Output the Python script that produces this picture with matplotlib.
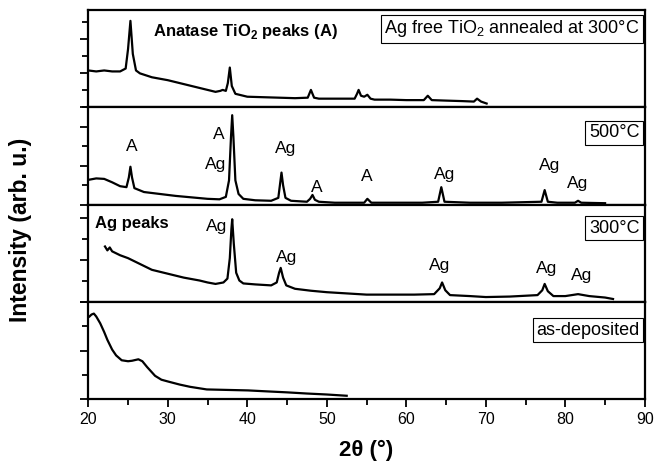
import matplotlib
matplotlib.use('Agg')
import matplotlib.pyplot as plt
from matplotlib.ticker import MultipleLocator, NullFormatter

plt.rcParams['font.family'] = ['Liberation Sans', 'DejaVu Sans']
plt.rcParams['mathtext.fontset'] = 'custom'
plt.rcParams['mathtext.rm'] = 'Liberation Sans'
plt.rcParams['mathtext.bf'] = 'Liberation Sans:bold'

# Ag free TiO2 annealed at 300C (top panel), intensities normalised to panel height
x_tio2 = [20.0, 21.0, 22.0, 23.0, 24.0, 24.7, 25.0, 25.3, 25.6, 26.0, 26.5, 28, 30, 32, 34, 36,
          36.6, 36.9, 37.3, 37.55, 37.8, 38.05, 38.5, 40, 42, 44, 46, 47.6, 48.0, 48.4, 49, 51,
          53.5, 53.8, 54.0, 54.3, 54.7, 55.1, 55.5, 56, 58, 60, 62.2, 62.7, 63.2, 65, 67,
          68.5, 68.9, 69.4, 70.1]
y_tio2 = [0.38, 0.37, 0.38, 0.37, 0.37, 0.40, 0.60, 0.89, 0.55, 0.38, 0.35, 0.31, 0.28, 0.24, 0.20, 0.16,
          0.17, 0.18, 0.17, 0.25, 0.41, 0.22, 0.14, 0.11, 0.105, 0.10, 0.095, 0.10, 0.18, 0.10, 0.09, 0.09,
          0.09, 0.14, 0.18, 0.12, 0.11, 0.13, 0.09, 0.08, 0.08, 0.075, 0.075, 0.12, 0.075, 0.07, 0.065,
          0.06, 0.09, 0.06, 0.04]

# 500C
x_500 = [20.0, 21, 22, 23, 24, 24.8, 25.1, 25.3, 25.5, 25.8, 27, 29, 31, 33, 35, 36.5, 37.3, 37.7,
         37.95, 38.1, 38.25, 38.5, 38.9, 39.5, 41, 43, 43.9, 44.1, 44.3, 44.5, 44.8, 45.5, 47.5, 47.9,
         48.2, 48.5, 49, 51, 54.7, 55.1, 55.6, 58, 62, 64.0, 64.4, 64.8, 68, 72, 77.0, 77.4, 77.8,
         79, 81.2, 81.6, 82, 85]
y_500 = [0.255, 0.27, 0.265, 0.23, 0.19, 0.18, 0.28, 0.39, 0.28, 0.17, 0.13, 0.11, 0.09, 0.075, 0.06, 0.055, 0.08, 0.25,
         0.70, 0.92, 0.70, 0.25, 0.11, 0.06, 0.045, 0.04, 0.07, 0.20, 0.33, 0.20, 0.07, 0.04, 0.03, 0.06,
         0.10, 0.05, 0.03, 0.02, 0.02, 0.06, 0.02, 0.02, 0.02, 0.03, 0.18, 0.03, 0.02, 0.02, 0.03, 0.15, 0.03,
         0.02, 0.02, 0.04, 0.02, 0.015]

# 300C
x_300 = [22.1, 22.4, 22.7, 23, 23.5, 24, 25, 26, 27, 28, 29, 30, 31, 32, 33, 34, 35, 36, 37.0, 37.5,
         37.8, 38.0, 38.1, 38.3, 38.6, 39.0, 39.5, 41, 43, 43.7, 44.0, 44.2, 44.5, 44.9, 46, 48, 50, 52,
         55, 58, 61, 63.5, 64.2, 64.5, 64.9, 65.5, 68, 70, 73, 76.5, 77.1, 77.4, 77.8, 78.5, 80, 81.6,
         83, 85, 86]
y_300 = [0.57, 0.53, 0.56, 0.52, 0.50, 0.48, 0.45, 0.41, 0.37, 0.33, 0.31, 0.29, 0.27, 0.25, 0.235, 0.22, 0.20, 0.185, 0.20, 0.24,
         0.45, 0.75, 0.85, 0.60, 0.30, 0.22, 0.19, 0.18, 0.17, 0.20, 0.30, 0.35, 0.25, 0.17, 0.135, 0.115, 0.10, 0.09,
         0.075, 0.075, 0.075, 0.08, 0.14, 0.20, 0.12, 0.07, 0.06, 0.05, 0.055, 0.07, 0.12, 0.185, 0.11, 0.06, 0.06, 0.08,
         0.06, 0.045, 0.03]

# as-deposited
x_dep = [20.15, 20.4, 20.7, 21.0, 21.5, 22.0, 22.4, 23.0, 23.5, 24.2, 25.0, 25.5, 26.3, 26.8, 27.4, 28.4,
         29.2, 30.1, 31.5, 32.8, 34.9, 37.5, 40.1, 42.5, 45.0, 47.5, 50.0, 52.5]
y_dep = [0.85, 0.87, 0.88, 0.85, 0.78, 0.69, 0.61, 0.51, 0.45, 0.40, 0.39, 0.395, 0.41, 0.39, 0.33, 0.24,
         0.20, 0.18, 0.15, 0.127, 0.10, 0.095, 0.09, 0.08, 0.07, 0.058, 0.048, 0.035]

labels_500 = [("A", 25.5, 0.60), ("A", 36.4, 0.725), ("Ag", 36.0, 0.41), ("Ag", 44.8, 0.576),
              ("A", 48.7, 0.18), ("A", 55.0, 0.29), ("Ag", 64.8, 0.31), ("Ag", 78.0, 0.40),
              ("Ag", 81.6, 0.22)]
labels_300 = [("Ag", 36.1, 0.78), ("Ag", 44.9, 0.46), ("Ag", 64.2, 0.37), ("Ag", 77.6, 0.34),
              ("Ag", 82.0, 0.27)]

fig, axes = plt.subplots(4, 1, sharex=True, figsize=(6.54, 4.62), dpi=100)
fig.subplots_adjust(left=0.135, right=0.986, top=0.978, bottom=0.136, hspace=0)

series = [(x_tio2, y_tio2), (x_500, y_500), (x_300, y_300), (x_dep, y_dep)]
tick_steps = [0.175, 0.2, 0.215, 0.25]
boxes = ["Ag free TiO$_2$ annealed at 300°C", "500°C", "300°C", "as-deposited"]
box_y = [0.81, 0.74, 0.76, 0.71]

for ax, (xs, ys), step, btxt, by in zip(axes, series, tick_steps, boxes, box_y):
    ax.plot(xs, ys, color='black', lw=1.6)
    ax.set_xlim(20, 90)
    ax.set_ylim(0, 1)
    ax.xaxis.set_major_locator(MultipleLocator(10))
    ax.xaxis.set_minor_locator(MultipleLocator(5))
    ax.yaxis.set_major_locator(MultipleLocator(2 * step))
    ax.yaxis.set_minor_locator(MultipleLocator(step))
    ax.yaxis.set_major_formatter(NullFormatter())
    ax.tick_params(axis='both', which='major', direction='out', length=5.5, width=1.3,
                   labelsize=11.5, pad=4)
    ax.tick_params(axis='both', which='minor', direction='out', length=4, width=1.3)
    for sp in ax.spines.values():
        sp.set_linewidth(1.6)
    ax.text(0.9905, by, btxt, transform=ax.transAxes, ha='right', va='center', fontsize=13,
            bbox=dict(boxstyle='square,pad=0.2', facecolor='white', edgecolor='black', lw=0.8))

axes[0].text(28.2, 0.78, "Anatase TiO$_\\mathbf{2}$ peaks (A)", fontsize=12, fontweight='bold',
             ha='left', va='center')
axes[2].text(20.9, 0.81, "Ag peaks", fontsize=12, fontweight='bold', ha='left', va='center')

for txt, lx, ly in labels_500:
    axes[1].text(lx, ly, txt, fontsize=12.5, ha='center', va='center')
for txt, lx, ly in labels_300:
    axes[2].text(lx, ly, txt, fontsize=12.5, ha='center', va='center')

fig.text(0.031, 1 - 230 / 462, "Intensity (arb. u.)", rotation=90, fontsize=16.5, fontweight='bold',
         ha='center', va='center')
fig.text(0.560, 1 - 450 / 462, "2θ (°)", fontsize=16, fontweight='bold', ha='center', va='center')

fig.savefig('out.png', dpi=100)
